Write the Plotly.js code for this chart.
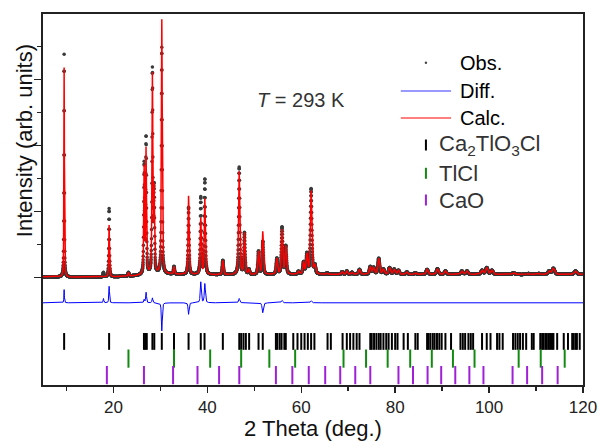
<!DOCTYPE html>
<html><head><meta charset="utf-8">
<script src="https://cdn.plot.ly/plotly-3.0.1.min.js"></script>
<style>html,body{margin:0;padding:0;background:#fff}</style>
</head><body><div id="chart" style="width:600px;height:441px"></div>
<script>
// ---- data (2 Theta in degrees, intensity in arb. units) ----
const peakPos = [9.5, 17.87, 19.08, 23.2, 26.54, 26.95, 28.3, 28.67, 30.3, 32.9, 36.0, 38.6, 39.47, 43.3,
  46.78, 47.9, 48.86, 50.9, 51.8, 54.8, 55.9, 56.7, 59.4, 60.5, 61.2, 62.1, 62.9, 65.5, 68.7, 69.7, 70.8,
  72.4, 74.7, 75.4, 76.5, 77.5, 78.8, 79.8, 80.7, 82.5, 84.3, 86.8, 89.0, 90.7, 94.2, 95.3, 98.5, 99.5,
  100.6, 105.2, 108.4, 110.6, 112.8, 113.7, 118.4];
const obsHeight = [6750, 130, 2070, 110, 3300, 4100, 6150, 2500, 6850, 230, 2030, 2330, 2880, 430,
  3250, 1250, 150, 700, 1000, 480, 1420, 850, 80, 350, 600, 2580, 250, 40, 80, 100, 60,
  150, 230, 200, 480, 150, 200, 150, 120, 70, 50, 150, 170, 100, 100, 100, 120, 200,
  120, 50, 25, 25, 100, 180, 100];
const calcHeight = [6350, 0, 1570, 110, 3200, 3780, 6000, 2500, 7700, 230, 2380, 1700, 2300, 430,
  3120, 1250, 150, 700, 1300, 480, 1350, 850, 80, 350, 580, 2520, 250, 40, 80, 100, 60,
  150, 230, 200, 480, 150, 200, 150, 120, 70, 50, 150, 170, 100, 100, 100, 120, 200,
  120, 50, 25, 25, 100, 180, 100];
const bgAngle = [5, 10, 20, 25, 30, 35, 40, 50, 60, 80, 100, 120];
const bgLevel = [30, 20, 30, 60, 110, 100, 90, 90, 100, 100, 100, 100];
const tickCa2TlO3Cl = [9.5, 19.08, 26.5, 26.8, 27.1, 28.3, 28.7, 30.3, 32.9, 36.0, 38.6, 39.4, 43.3,
  46.8, 47.2, 47.7, 48.2, 48.9, 50.9, 51.8, 54.6, 54.9, 55.4, 55.8, 56.4, 56.7, 58.3, 59.2, 60.0, 60.7,
  61.4, 62.1, 62.8, 65.6, 66.3, 68.8, 69.7, 70.4, 71.1, 71.8, 72.4, 74.7, 75.0, 75.5, 76.0, 76.5, 76.9,
  77.5, 78.1, 78.6, 79.3, 80.0, 80.5, 81.8, 82.7, 84.3, 84.8, 86.8, 87.1, 87.5, 88.0, 88.4, 88.9, 89.4,
  89.9, 90.7, 91.9, 93.9, 94.4, 94.9, 95.6, 96.1, 96.6, 98.5, 99.5, 100.3, 101.7, 102.2, 102.9, 105.1,
  105.6, 106.1, 106.6, 107.2, 107.9, 109.1, 109.5, 110.9, 111.3, 111.6, 112.0, 112.3, 112.7, 113.0,
  113.4, 113.7, 114.5, 115.9, 116.8, 117.7, 118.0, 118.4, 118.7, 119.3];
const tickTlCl = [23.2, 32.9, 40.6, 47.2, 53.2, 58.7, 69.0, 73.8, 78.4, 83.2, 87.8, 92.3, 96.9, 106.3, 111.0, 116.1];
const tickCaO = [18.6, 26.5, 32.7, 37.9, 42.5, 46.8, 54.6, 58.1, 61.6, 65.1, 68.3, 71.5, 74.7, 80.7, 83.8,
  86.9, 89.8, 92.8, 95.8, 98.8, 105.0, 108.1, 111.3, 114.6];
const xTickVals = [20, 40, 60, 80, 100, 120];
const xTickText = ['20', '40', '60', '80', '100', '120'];

// ---- build the profiles from the peak table ----
const step = 0.02, xStart = 5, xEnd = 120;
const diffOffset = -760;
function bgAt(x) {
  for (let i = 0; i < bgAngle.length - 1; i++) {
    if (x >= bgAngle[i] && x <= bgAngle[i + 1]) {
      const t = (x - bgAngle[i]) / (bgAngle[i + 1] - bgAngle[i]);
      return bgLevel[i] + t * (bgLevel[i + 1] - bgLevel[i]);
    }
  }
  return bgLevel[bgLevel.length - 1];
}
function shape(x, p) {
  const w = 0.11 + 0.0045 * (p - 5);
  const d = (x - p) / w;
  return 0.55 / (1 + 4 * d * d) + 0.45 * Math.exp(-4 * Math.LN2 * d * d);
}
const tt = [], obs = [], calc = [], diff = [];
const n = Math.round((xEnd - xStart) / step);
for (let i = 0; i <= n; i++) {
  const x = xStart + i * step;
  let o = bgAt(x), c = bgAt(x);
  for (let k = 0; k < peakPos.length; k++) {
    if (Math.abs(x - peakPos[k]) > 6) continue;
    const s = shape(x, peakPos[k]);
    o += obsHeight[k] * s;
    c += calcHeight[k] * s;
  }
  tt.push(+x.toFixed(2)); obs.push(o); calc.push(c); diff.push(o - c + diffOffset);
}
const rowCa2 = -1930, rowTlCl = -2450, rowCaO = -2950;

const traces = [
  {x: tt, y: obs, type: 'scatter', mode: 'markers', name: 'Obs.',
   marker: {size: 3.5, color: '#3a3a3a'}, hoverinfo: 'skip'},
  {x: tt, y: calc, type: 'scatter', mode: 'lines', name: 'Calc.',
   line: {color: '#ff0000', width: 1.5}, hoverinfo: 'skip'},
  {x: tt, y: diff, type: 'scatter', mode: 'lines', name: 'Diff.',
   line: {color: '#0000ff', width: 1}, hoverinfo: 'skip'},
  {x: tickCa2TlO3Cl, y: tickCa2TlO3Cl.map(() => rowCa2), type: 'scatter', mode: 'markers',
   marker: {symbol: 'line-ns', size: 12, line: {color: '#000000', width: 2}}},
  {x: tickTlCl, y: tickTlCl.map(() => rowTlCl), type: 'scatter', mode: 'markers',
   marker: {symbol: 'line-ns', size: 13, line: {color: '#128a12', width: 2}}},
  {x: tickCaO, y: tickCaO.map(() => rowCaO), type: 'scatter', mode: 'markers',
   marker: {symbol: 'line-ns', size: 13, line: {color: '#a020d8', width: 2}}}
];

const FONT = 'Liberation Sans, Arial, sans-serif';
const legX = 86.55, legTxt = 93.4, legTxt2 = 89.0;
const layout = {
  width: 600, height: 441,
  margin: {l: 43, r: 17, t: 14, b: 56},
  paper_bgcolor: '#fff', plot_bgcolor: '#fff',
  showlegend: false,
  font: {family: FONT, color: '#222'},
  xaxis: {
    range: [5, 120], tickmode: 'array', tickvals: xTickVals, ticktext: xTickText,
    ticks: 'outside', ticklen: 6, tickwidth: 1.5, tickcolor: '#222',
    minor: {tickmode: 'array', tickvals: [10, 30, 50, 70, 90, 110], ticks: 'outside', ticklen: 3.5, tickwidth: 1.5, tickcolor: '#222'},
    showline: true, linecolor: '#222', linewidth: 2, mirror: true,
    showgrid: false, zeroline: false,
    tickfont: {size: 17, family: FONT, color: '#222'},
    title: {text: '2 Theta (deg.)', font: {size: 22, family: FONT, color: '#111'}, standoff: 4}
  },
  yaxis: {
    range: [-3250, 7990], tickmode: 'array', tickvals: [0, 2000, 4000, 6000], showticklabels: false,
    ticks: 'outside', ticklen: 7, tickwidth: 1.5, tickcolor: '#222',
    minor: {tickmode: 'array', tickvals: [1000, 3000, 5000, 7000], ticks: 'outside', ticklen: 4, tickwidth: 1.5, tickcolor: '#222'},
    showline: true, linecolor: '#222', linewidth: 2, mirror: true,
    showgrid: false, zeroline: false
  },
  shapes: [
    {type: 'circle', xref: 'x', yref: 'y', xsizemode: 'pixel', ysizemode: 'pixel',
     xanchor: legX, yanchor: 6515, x0: -1.2, x1: 1.2, y0: -1.2, y1: 1.2,
     fillcolor: '#444', line: {width: 0}},
    {type: 'line', xref: 'x', yref: 'y', x0: 81.2, x1: 91.9, y0: 5658, y1: 5658, line: {color: '#7777ff', width: 1.5}},
    {type: 'line', xref: 'x', yref: 'y', x0: 81.2, x1: 91.9, y0: 4839, y1: 4839, line: {color: '#ff5555', width: 1.5}},
    {type: 'line', xref: 'x', yref: 'y', ysizemode: 'pixel', yanchor: 4021,
     x0: legX, x1: legX, y0: -5.5, y1: 5.5, line: {color: '#000', width: 2}},
    {type: 'line', xref: 'x', yref: 'y', ysizemode: 'pixel', yanchor: 3164,
     x0: legX, x1: legX, y0: -5.5, y1: 5.5, line: {color: '#128a12', width: 2}},
    {type: 'line', xref: 'x', yref: 'y', ysizemode: 'pixel', yanchor: 2355,
     x0: legX, x1: legX, y0: -5.5, y1: 5.5, line: {color: '#a020d8', width: 2}}
  ],
  annotations: [
    {x: -0.034, y: 0.659, xref: 'paper', yref: 'paper', text: 'Intensity (arb. units)', textangle: -90, showarrow: false, xanchor: 'center', yanchor: 'middle', font: {size: 22, color: '#111', family: FONT}},
    {x: legTxt, y: 6515, xref: 'x', yref: 'y', text: 'Obs.', showarrow: false, xanchor: 'left', yanchor: 'middle', font: {size: 20, color: '#000', family: FONT}},
    {x: legTxt, y: 5658, xref: 'x', yref: 'y', text: 'Diff.', showarrow: false, xanchor: 'left', yanchor: 'middle', font: {size: 20, color: '#000', family: FONT}},
    {x: legTxt, y: 4839, xref: 'x', yref: 'y', text: 'Calc.', showarrow: false, xanchor: 'left', yanchor: 'middle', font: {size: 20, color: '#000', family: FONT}},
    {x: legTxt2, y: 4021, xref: 'x', yref: 'y', text: 'Ca<sub>2</sub>TlO<sub>3</sub>Cl', showarrow: false, xanchor: 'left', yanchor: 'middle', font: {size: 22, color: '#333', family: FONT}},
    {x: legTxt2, y: 3164, xref: 'x', yref: 'y', text: 'TlCl', showarrow: false, xanchor: 'left', yanchor: 'middle', font: {size: 22, color: '#333', family: FONT}},
    {x: legTxt2, y: 2355, xref: 'x', yref: 'y', text: 'CaO', showarrow: false, xanchor: 'left', yanchor: 'middle', font: {size: 22, color: '#333', family: FONT}},
    {x: 50.2, y: 5385, xref: 'x', yref: 'y', text: '<i>T</i> = 293 K', showarrow: false, xanchor: 'left', yanchor: 'middle', font: {size: 20, color: '#333', family: FONT}}
  ]
};
Plotly.newPlot('chart', traces, layout, {staticPlot: true, displayModeBar: false});
</script>
</body></html>
